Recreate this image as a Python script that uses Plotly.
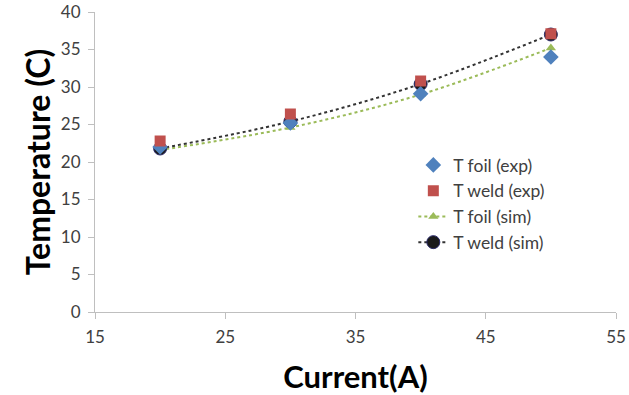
import plotly.graph_objects as go

# Welding current (A) and measured / simulated temperatures (C)
current = [20, 30, 40, 50]
t_foil_exp = [22.0, 25.2, 29.1, 34.0]
t_weld_exp = [22.8, 26.4, 30.8, 37.1]
t_foil_sim = [21.6, 24.6, 29.0, 35.2]
t_weld_sim = [21.8, 25.4, 30.4, 37.0]

x_ticks = [15, 25, 35, 45, 55]
y_ticks = [0, 5, 10, 15, 20, 25, 30, 35, 40]

BLUE = "#4F81BD"
RED = "#C0504D"
GREEN = "#9BBB59"
BLACK = "#1a1a1a"
TEXT = "#404040"
FONT = "Lato"

fig = go.Figure()

# simulated curves drawn first so experimental markers sit on top
fig.add_trace(go.Scatter(
    x=current, y=t_foil_sim, name="T foil (sim)", mode="lines+markers",
    line=dict(color=GREEN, width=2, dash="dot", shape="spline"),
    marker=dict(symbol="triangle-up", size=9, color=GREEN),
    legendrank=3,
))
fig.add_trace(go.Scatter(
    x=current, y=t_weld_sim, name="T weld (sim)", mode="lines+markers",
    line=dict(color="#333333", width=2, dash="dot", shape="spline"),
    marker=dict(symbol="circle", size=13, color=BLACK,
                line=dict(color="#2a2a6a", width=1)),
    legendrank=4,
))
fig.add_trace(go.Scatter(
    x=current, y=t_foil_exp, name="T foil (exp)", mode="markers",
    marker=dict(symbol="diamond", size=12, color=BLUE),
    legendrank=1,
))
fig.add_trace(go.Scatter(
    x=current, y=t_weld_exp, name="T weld (exp)", mode="markers",
    marker=dict(symbol="square", size=11, color=RED),
    legendrank=2,
))

axis_common = dict(
    showgrid=False, zeroline=False, showline=True,
    linecolor="#bfbfbf", linewidth=1,
    ticks="outside", ticklen=6, tickcolor="#bfbfbf",
    tickfont=dict(family=FONT, size=17, color=TEXT),
    automargin=False,
)

fig.update_xaxes(
    range=[15, 55], tickvals=x_ticks, ticklabelstandoff=4,
    title=dict(text="<b>Current(A)</b>", font=dict(family=FONT, size=31, color="#000000"),
               standoff=20),
    **axis_common,
)
fig.update_yaxes(
    range=[0, 40], tickvals=y_ticks, ticklabelstandoff=4,
    title=dict(text="<b>Temperature (C)</b>", font=dict(family=FONT, size=32, color="#000000"),
               standoff=0),
    **axis_common,
)

fig.update_layout(
    width=629, height=395,
    margin=dict(l=95, r=13, t=12, b=83),
    paper_bgcolor="white", plot_bgcolor="white",
    showlegend=True,
    legend=dict(
        x=0.611, y=0.55, xanchor="left", yanchor="top",
        font=dict(family=FONT, size=17.5, color=TEXT),
        bgcolor="rgba(0,0,0,0)", tracegroupgap=0, itemwidth=30,
    ),
)

fig.write_html("out.html")
